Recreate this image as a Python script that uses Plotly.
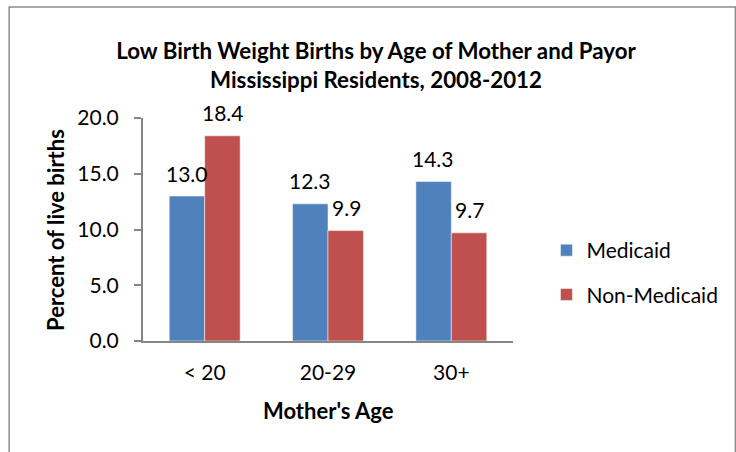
import plotly.graph_objects as go

categories = ["< 20", "20-29", "30+"]
medicaid = [13.0, 12.3, 14.3]
non_medicaid = [18.4, 9.9, 9.7]
series_names = ["Medicaid", "Non-Medicaid"]
y_ticks = [0, 5, 10, 15, 20]

FONT = "Lato"
BLUE = "#4F81BD"
RED = "#C0504D"

W, H = 736, 452
L, R, T, B = 143, 217, 118, 111
pw, ph = W - L - R, H - T - B

fig = go.Figure()
for name, vals, col in [(series_names[0], medicaid, BLUE), (series_names[1], non_medicaid, RED)]:
    fig.add_trace(go.Bar(
        x=categories, y=vals, name=name, legendgroup=name,
        marker=dict(color=col, line=dict(color="rgba(255,255,255,0.5)", width=1)),
    ))

annotations = []
for k, vals in enumerate([medicaid, non_medicaid]):
    off = -0.5 if k == 0 else 0.5
    for i, v in enumerate(vals):
        annotations.append(dict(
            x=i, y=v, xref="x", yref="y", text=f"{v:.1f}", showarrow=False,
            xshift=off * 36, yshift=23, font=dict(family=FONT, size=21, color="#000"),
        ))

annotations.append(dict(
    x=(54 - L) / pw, y=0.5, xref="paper", yref="paper", text="<b>Percent of live births</b>",
    textangle=-90, showarrow=False, xanchor="center", yanchor="middle",
    font=dict(family=FONT, size=22, color="#000"),
))
annotations.append(dict(
    x=(331 - L) / pw, y=(H - B - 410) / ph, xref="paper", yref="paper", text="<b>Mother's Age</b>",
    showarrow=False, xanchor="center", yanchor="middle",
    font=dict(family=FONT, size=22, color="#000"),
))

fig.update_layout(
    width=W, height=H,
    margin=dict(l=L, r=R, t=T, b=B),
    paper_bgcolor="white", plot_bgcolor="white",
    barmode="group", bargap=0.425, bargroupgap=0,
    title=dict(
        text="<b>Low Birth Weight Births by Age of Mother and Payor<br>Mississippi Residents, 2008-2012</b>",
        x=376 / W, xanchor="center", y=1 - 59 / H, yanchor="middle",
        font=dict(family=FONT, size=22.3, color="#000"),
    ),
    font=dict(family=FONT, size=21, color="#000"),
    showlegend=True,
    legend=dict(
        x=(553 - L) / pw, y=(H - B - 230) / ph, xanchor="left", yanchor="top",
        font=dict(family=FONT, size=21, color="#000"), tracegroupgap=14,
        itemwidth=30,
    ),
    annotations=annotations,
    shapes=[dict(
        type="rect", xref="paper", yref="paper",
        x0=(7 - L) / pw, x1=(745 - L) / pw, y0=(H - B - 460) / ph, y1=(H - B - 7) / ph,
        line=dict(color="#8c8c8c", width=1.5), fillcolor="rgba(0,0,0,0)", layer="below",
    )],
)

fig.update_xaxes(
    showline=True, linecolor="#868686", linewidth=2, ticks="", showgrid=False,
    tickfont=dict(family=FONT, size=21), ticklabelstandoff=12,
)
fig.update_yaxes(
    range=[0, 20], tickvals=y_ticks, tickformat=".1f", showgrid=False, zeroline=False,
    showline=True, linecolor="#868686", linewidth=2, ticks="outside", ticklen=7,
    tickcolor="#868686", tickwidth=2, tickfont=dict(family=FONT, size=21), ticklabelstandoff=11,
)

fig.write_html("out.html", config={"displayModeBar": False},
               post_script="document.body.style.margin='0px';")
